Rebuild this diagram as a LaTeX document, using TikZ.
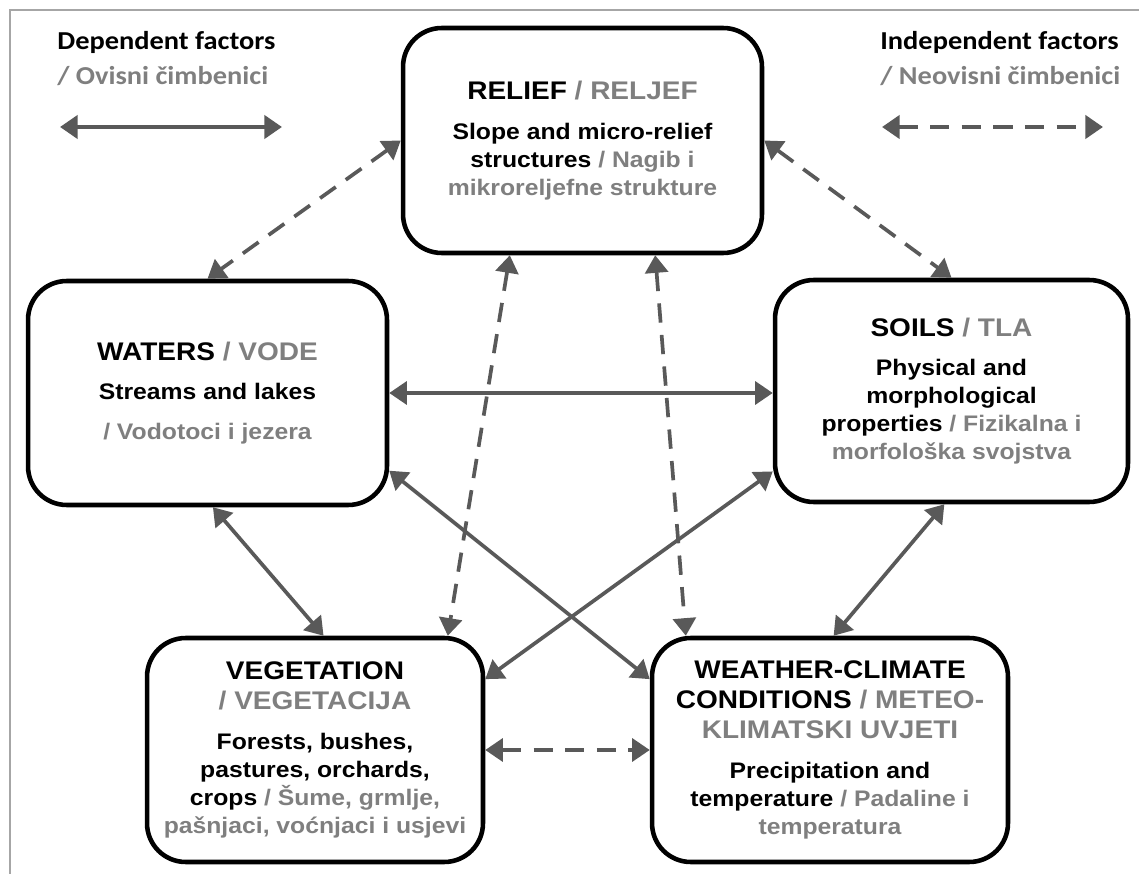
\documentclass[tikz,border=0pt]{standalone}
\usepackage{fontspec}
\setmainfont{Liberation Sans}[FakeStretch=1.1]
\newfontfamily\legendfont{Carlito}[FakeStretch=1.1]
\usepackage{tikz}
\usetikzlibrary{arrows.meta}
\usetikzlibrary{calc}
\definecolor{txtgrey}{HTML}{7F7F7F}
\definecolor{arrgrey}{HTML}{595959}
\definecolor{framegrey}{HTML}{A6A6A6}
\newcommand{\gr}[1]{\textcolor{txtgrey}{#1}}
\newcommand{\ttl}{\fontsize{14.5}{17}\selectfont}
\tikzset{
    factor/.style={draw, line width=2.6pt, rounded corners=22pt, align=center, inner sep=0pt,
        font=\bfseries\fontsize{12.8}{15.9}\selectfont},
    legendtext/.style={anchor=base west, inner sep=0pt, font=\legendfont\bfseries\fontsize{14.7}{18}\selectfont},
    dep/.style={draw=arrgrey, line width=2.1pt, {Triangle[length=10pt,width=13pt]}-{Triangle[length=10pt,width=13pt]}},
    indep/.style={dep, dash pattern=on 11pt off 7pt}
}

\begin{document}
\begin{tikzpicture}[x=0.02cm, y=-0.02cm]
    		\useasboundingbox (0,0) rectangle (1139,874);
    		% Frame:
    		\draw[framegrey, line width=0.6pt] (10,874) -- (10,10) -- (1139,10);
    		% Legend:
    		\node[legendtext] (deptitle) at (57,50) {Dependent factors};
    		\node[legendtext] (deptrans) at (57,85) {\gr{/ Ovisni čimbenici}};
    		\node[legendtext] (indeptitle) at (880,50) {Independent factors};
    		\node[legendtext] (indeptrans) at (880,85) {\gr{/ Neovisni čimbenici}};
    		\coordinate (depA) at (60,127);
    		\coordinate (depB) at (282,127);
    		\coordinate (indepA) at (882,127);
    		\coordinate (indepB) at (1103,127);
    		\draw[dep, line width=2.6pt] (depA) -- (depB);
    		\draw[indep, line width=2.6pt] (indepA) -- (indepB);
    		% Factor boxes:
    		\node[factor, minimum width=7.18cm, minimum height=4.5cm] (relief) at (582.5,140.5)
    		    {{\ttl RELIEF \gr{/ RELJEF}}\\[6.8pt]Slope and micro-relief\\structures \gr{/ Nagib i}\\\gr{mikroreljefne strukture}};
    		\node[factor, minimum width=7.18cm, minimum height=4.48cm] (waters) at (207.5,393)
    		    {{\ttl WATERS \gr{/ VODE}}\\[6.8pt]Streams and lakes\\[6.8pt]\gr{/ Vodotoci i jezera}};
    		\node[factor, minimum width=7.06cm, minimum height=4.44cm] (soils) at (951.5,391)
    		    {{\ttl SOILS \gr{/ TLA}}\\[6.8pt]Physical and\\morphological\\properties \gr{/ Fizikalna i}\\\gr{morfološka svojstva}};
    		\node[factor, minimum width=6.72cm, minimum height=4.48cm] (veg) at (315,750)
    		    {{\ttl VEGETATION}\\[1.1pt]{\ttl\gr{/ VEGETACIJA}}\\[7pt]Forests, bushes,\\pastures, orchards,\\crops \gr{/ Šume, grmlje,}\\\gr{pašnjaci, voćnjaci i usjevi}};
    		\node[factor, minimum width=7.12cm, minimum height=4.48cm] (weather) at (830,750)
    		    {{\ttl WEATHER-CLIMATE}\\[1.1pt]{\ttl CONDITIONS \gr{/ METEO-}}\\[1.1pt]{\ttl\gr{KLIMATSKI UVJETI}}\\[7pt]Precipitation and\\temperature \gr{/ Padaline i}\\\gr{temperatura}};
    		% Dependent links:
    		\draw[dep] (waters.east) -- (soils.west |- waters.east);
    		\draw[dep] ($(waters.south west)!.515!(waters.south east)$) -- ($(veg.north west)!.525!(veg.north east)$);
    		\draw[dep] ($(waters.north east)!.84!(waters.south east)$) -- ($(weather.north west)!.19!(weather.south west)$);
    		\draw[dep] ($(soils.north west)!.855!(soils.south west)$) -- ($(veg.north east)!.19!(veg.south east)$);
    		\draw[dep] ($(soils.south west)!.48!(soils.south east)$) -- ($(weather.north west)!.51!(weather.north east)$);
    		% Independent links:
    		\draw[indep] (relief.west) -- (waters.north);
    		\draw[indep] (relief.east) -- (soils.north);
    		\draw[indep] ($(relief.south west)!.3!(relief.south east)$) -- ($(veg.north west)!.89!(veg.north east)$);
    		\draw[indep] ($(relief.south west)!.7!(relief.south east)$) -- ($(weather.north west)!.1!(weather.north east)$);
    		\draw[indep] (veg.east) -- (weather.west);
    	\end{tikzpicture}
\end{document}
